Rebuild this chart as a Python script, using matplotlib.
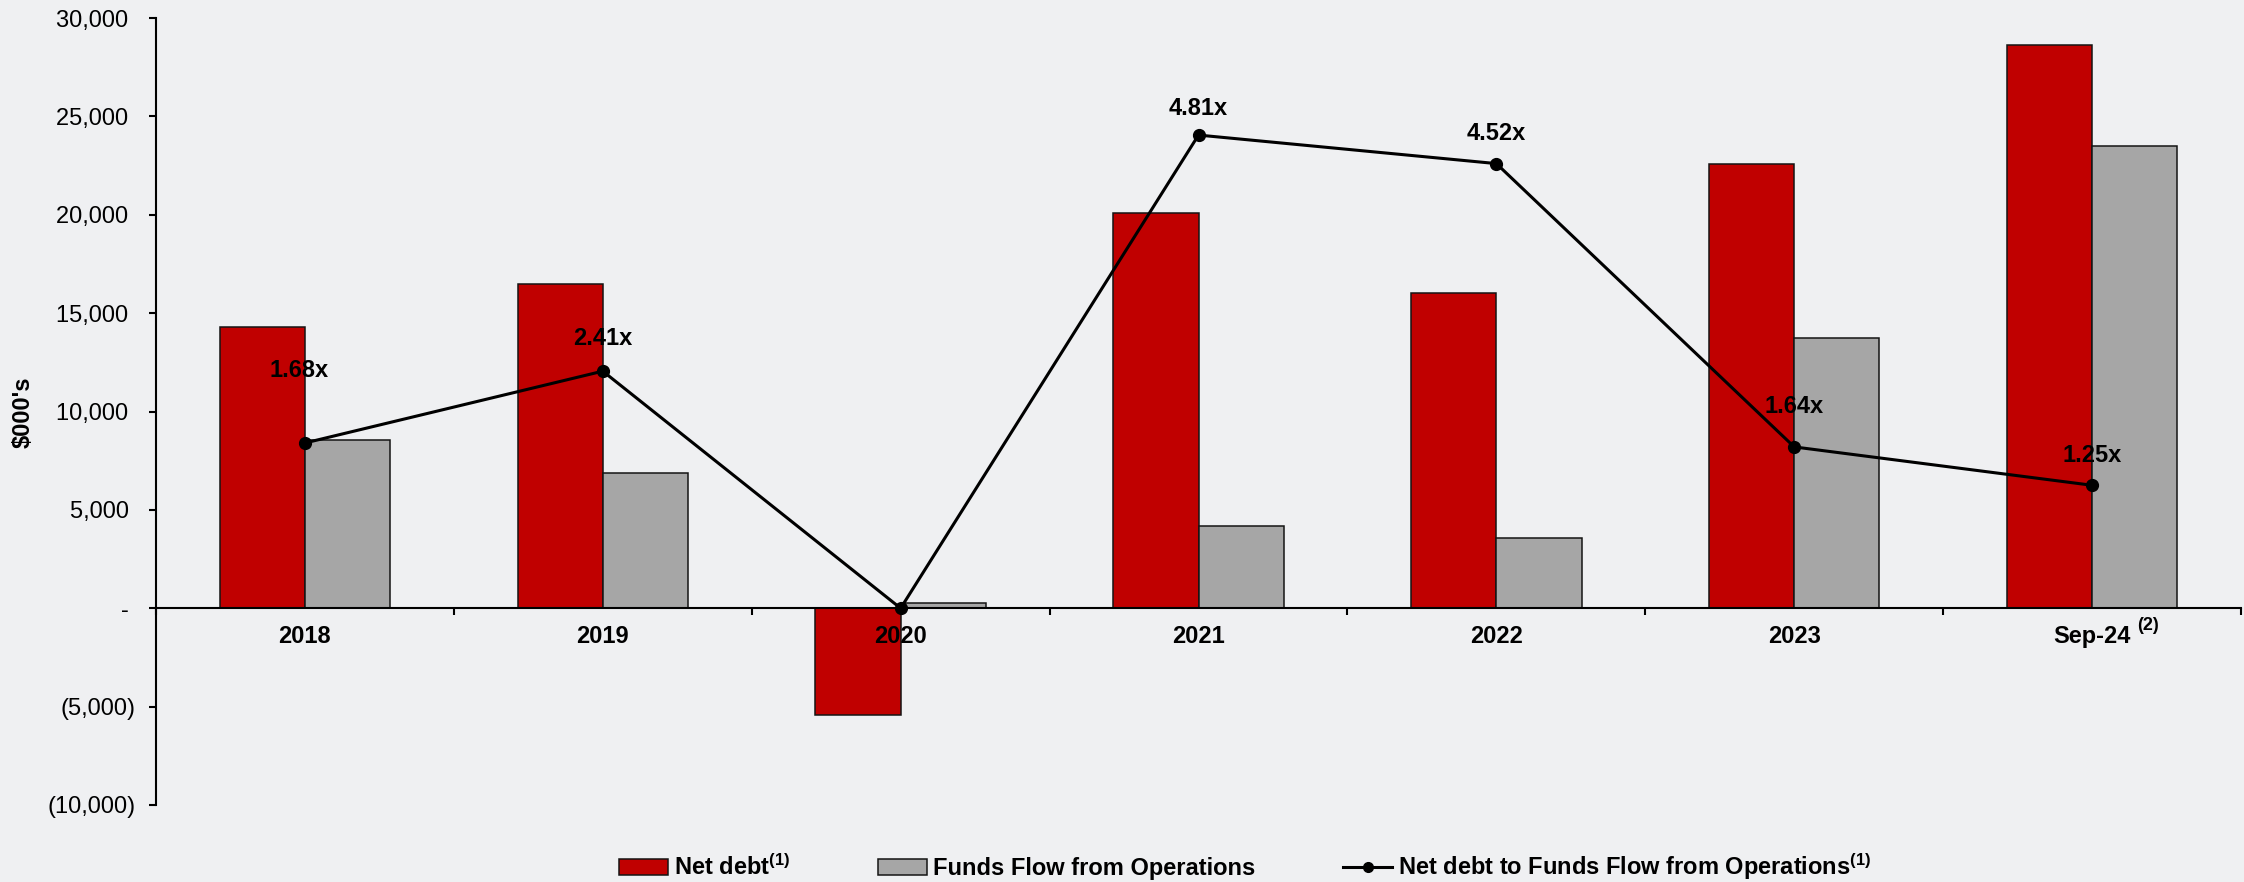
import matplotlib
matplotlib.use("Agg")
import matplotlib.pyplot as plt
import numpy as np
from matplotlib.patches import Patch
from matplotlib.lines import Line2D
from matplotlib.ticker import FuncFormatter, FixedLocator

plt.rcParams['font.family'] = ['Liberation Sans', 'DejaVu Sans']
plt.rcParams['mathtext.fontset'] = 'custom'
plt.rcParams['mathtext.rm'] = 'Liberation Sans:bold'
plt.rcParams['mathtext.bf'] = 'Liberation Sans:bold'
plt.rcParams['mathtext.it'] = 'Liberation Sans:bold'
plt.rcParams['mathtext.default'] = 'bf'

# ---- data ----
categories = ["2018", "2019", "2020", "2021", "2022", "2023", "Sep-24"]
category_notes = ["", "", "", "", "", "", "(2)"]
net_debt = [14300, 16500, -5450, 20100, 16000, 22600, 28650]
ffo = [8550, 6850, 250, 4200, 3550, 13750, 23500]
ratio = [1.68, 2.41, 0.0, 4.81, 4.52, 1.64, 1.25]
y_ticks = [-10000, -5000, 0, 5000, 10000, 15000, 20000, 25000, 30000]

# label offsets (pixels from the point) - layout only
label_dy_px = [72, 33, 0, 27, 30, 40, 30]
label_dx_px = [-6, 0, 0, 0, 0, 0, 0]

BG = "#eff0f2"
RED = "#c00000"
GRAY = "#a6a6a6"
EDGE = "#141414"

W, H, DPI = 2244, 882, 100
fig = plt.figure(figsize=(W / DPI, H / DPI), dpi=DPI, facecolor=BG)
ax = fig.add_axes([156 / W, 1 - 805 / H, (2241 - 156) / W, (805 - 18) / H])
ax.set_facecolor("none")
ax.set_axisbelow(False)

x = np.arange(len(categories))
bw = 0.286
ax.bar(x - bw / 2, net_debt, width=bw, color=RED, edgecolor=EDGE, linewidth=1.1, zorder=2)
ax.bar(x + bw / 2, ffo, width=bw, color=GRAY, edgecolor=EDGE, linewidth=1.1, zorder=2)

ax.set_xlim(-0.5, len(categories) - 0.5)
ax.set_ylim(-10000, 30000)

for s in ("top", "right"):
    ax.spines[s].set_visible(False)
ax.spines["bottom"].set_position(("data", 0))
ax.spines["left"].set_linewidth(1.5)
ax.spines["bottom"].set_linewidth(1.5)

ax.set_yticks(y_ticks)

def yfmt(v, pos):
    if v == 0:
        return "- "
    if v < 0:
        return "({:,.0f})".format(-v)
    return "{:,.0f} ".format(v)

ax.yaxis.set_major_formatter(FuncFormatter(yfmt))
ax.tick_params(axis="y", direction="out", length=5, width=1.5, pad=10, labelsize=17)

ax.set_xticks(x)
ax.set_xticklabels(categories, fontweight="bold", fontsize=17)
ax.xaxis.set_minor_locator(FixedLocator(np.arange(-0.5, len(categories), 1.0)))
ax.tick_params(axis="x", which="major", length=0, pad=12)
ax.tick_params(axis="x", which="minor", direction="out", length=5, width=1.5)

for xi, note in zip(x, category_notes):
    if note:
        ax.annotate(note, (xi, 0), xytext=(56 * 0.72, -17 * 0.72),
                    textcoords="offset points", ha="center", va="center",
                    fontsize=13, fontweight="bold", zorder=5)

fig.text(23 / W, 1 - 412 / H, "$000's", rotation=90, ha="center", va="center",
         fontsize=17, fontweight="bold")

ax2 = ax.twinx()
ax2.set_ylim(-2, 6)
ax2.set_axis_off()
ax2.plot(x, ratio, color="black", linewidth=2.2, marker="o", markersize=8.5, zorder=4)
for xi, r, dy, dx in zip(x, ratio, label_dy_px, label_dx_px):
    if r > 0:
        ax2.annotate("{:.2f}x".format(r), (xi, r), xytext=(dx * 0.72, dy * 0.72),
                     textcoords="offset points", ha="center", va="center",
                     fontsize=17, fontweight="bold")

handles = [
    Patch(facecolor=RED, edgecolor=EDGE, linewidth=1.1),
    Patch(facecolor=GRAY, edgecolor=EDGE, linewidth=1.1),
    Line2D([], [], color="black", linewidth=2.2, marker="o", markersize=7),
]
labels = ["Net debt$^{(1)}$", "Funds Flow from Operations",
          "Net debt to Funds Flow from Operations$^{(1)}$"]
leg = fig.legend(handles, labels, loc="center", bbox_to_anchor=(1245 / W, 1 - 867 / H),
                 ncol=3, frameon=False, handlelength=2.1, handleheight=0.7,
                 handletextpad=0.25, columnspacing=3.7, borderpad=0,
                 prop={"weight": "bold", "size": 17})

fig.savefig("out.png", dpi=DPI, facecolor=BG)
